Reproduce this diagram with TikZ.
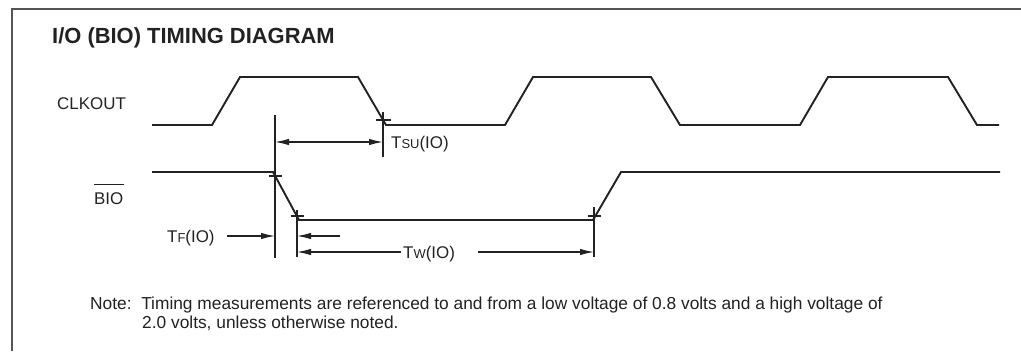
\documentclass[tikz,border=0pt]{standalone}
\usepackage{fontspec}
\setmainfont{Liberation Sans}
\usetikzlibrary{arrows.meta}
\definecolor{ink}{HTML}{222222}
\definecolor{frame}{HTML}{555555}
\tikzset{
  wave/.style={draw=ink, line width=1.9bp, line join=miter},
  marker/.style={draw=ink, line width=1.1bp},
  tick/.style={draw=ink, line width=1.1bp},
  dimarrow/.style={draw=ink, line width=1.2bp, -{Latex[length=14bp,width=6.5bp]}},
  dimboth/.style={draw=ink, line width=1.2bp, {Latex[length=14bp,width=6.5bp]}-{Latex[length=14bp,width=6.5bp]}},
  lbl/.style={inner sep=0pt, anchor=base west, text=ink, font=\fontsize{17}{20}\selectfont},
  notetext/.style={inner sep=0pt, anchor=base west, text=ink, font=\fontsize{17.4}{20}\selectfont},
  titletext/.style={inner sep=0pt, anchor=base west, text=ink, font=\fontsize{22}{24}\selectfont\bfseries},
}
\newcommand{\smc}[1]{{\fontsize{13}{12}\selectfont #1}}
\begin{document}
\begin{tikzpicture}[x=1bp, y=-1bp]
\useasboundingbox (0,0) rectangle (1021,351);
\fill[white] (0,0) rectangle (1021,351);
% frame
\coordinate (fTR) at (1021,9);
\coordinate (fTL) at (12,9);
\coordinate (fBL) at (12,351);
\draw[frame, line width=1.4bp] (fTR) -- (fTL) -- (fBL);

% title and labels
\node[titletext] (title) at (52,43) {I/O (BIO) TIMING DIAGRAM};
\node[lbl] (clk) at (57,109) {CLKOUT};
\node[lbl] (bio) at (94,204) {BIO};
\draw[ink, line width=1bp] ([yshift=7bp]bio.north west) -- ([yshift=7bp]bio.north east);

% CLKOUT waveform
\draw[wave] (152,125) -- (212,125) -- (240,77) -- (358,77) -- (386,125) -- (505,125)
  -- (533,77) -- (651,77) -- (680,125) -- (800,125) -- (828,77) -- (948,77)
  -- (977,125) -- (999,125);

% BIO waveform
\draw[wave] (152,172) -- (273,172) -- (299,220) -- (593,220) -- (621,172) -- (1000,172);

% marker lines
\coordinate (v1t) at (275,115); \coordinate (v1b) at (275,258);
\coordinate (v2t) at (383,112); \coordinate (v2b) at (383,157);
\coordinate (v3t) at (297,210); \coordinate (v3b) at (297,257);
\coordinate (v4t) at (594,207); \coordinate (v4b) at (594,257);
\draw[marker] (v1t) -- (v1b);
\draw[marker] (v2t) -- (v2b);
\draw[marker] (v3t) -- (v3b);
\draw[marker] (v4t) -- (v4b);

% crossing ticks
\draw[tick] (376,120) -- (391,120);
\draw[tick] (269,176) -- (282,176);
\draw[tick] (291,216) -- (304,216);
\draw[tick] (588,216) -- (601,216);

% Tsu
\coordinate (su1) at (275,142);
\coordinate (su2) at (383,142);
\draw[dimboth] (su1) -- (su2);
\node[lbl] (tsu) at (391,148) {T\smc{SU}(IO)};

% Tf
\node[lbl] (tf) at (167,242) {T\smc{F}(IO)};
\coordinate (tfa) at (227,236);
\coordinate (tfb) at (275,236);
\draw[dimarrow] (tfa) -- (tfb);
\coordinate (tfc) at (340,236);
\coordinate (tfd) at (297,236);
\draw[dimarrow] (tfc) -- (tfd);

% Tw
\node[lbl] (tw) at (403,258) {T\smc{W}(IO)};
\coordinate (twa) at (297,252);
\coordinate (twb) at (594,252);
\draw[dimarrow] ([xshift=-2bp]tw.west |- twa) -- (twa);
\draw[dimarrow] ([xshift=478bp]0,252) -- (twb);

% note
\node[notetext] (note1) at (90,309) {Note:\ \ Timing measurements are referenced to and from a low voltage of 0.8 volts and a high voltage of};
\node[notetext] (note2) at (142,328) {2.0 volts, unless otherwise noted.};
\end{tikzpicture}
\end{document}
